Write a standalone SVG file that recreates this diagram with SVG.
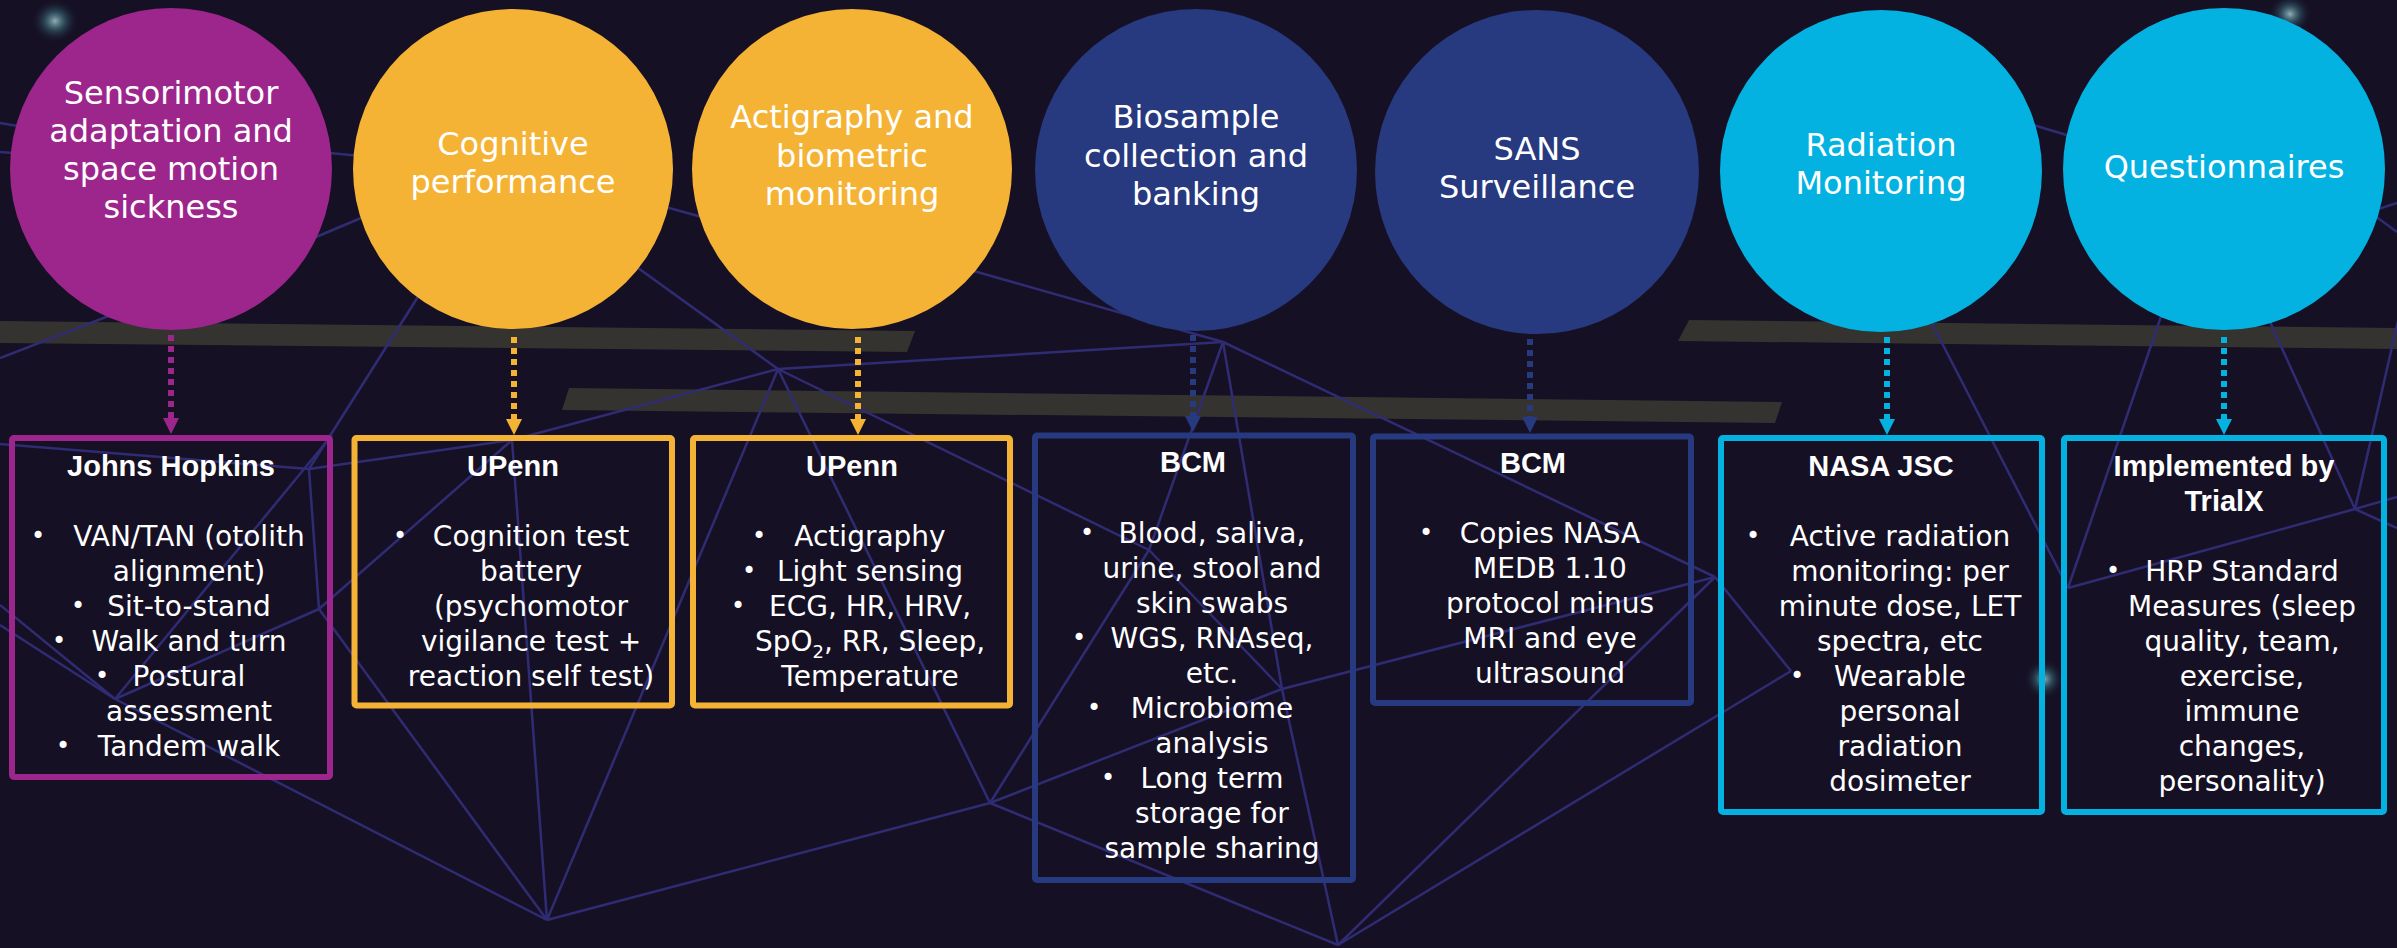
<svg xmlns="http://www.w3.org/2000/svg" width="2397" height="948" viewBox="0 0 2397 948">
<defs>
<style>
.bg{fill:#161024}
.band{fill:#35332f}
.net line{stroke:#2f2c74;stroke-width:2.5}
.ctext{font-family:"DejaVu Sans","Liberation Sans",sans-serif;font-size:32px;fill:#ffffff;text-anchor:middle}
.head{font-family:"Liberation Sans",Arial,sans-serif;font-weight:bold;font-size:29px;fill:#ffffff;text-anchor:middle}
.body{font-family:"DejaVu Sans","Liberation Sans",sans-serif;font-size:28px;fill:#ffffff;text-anchor:middle}
.bul{font-family:"DejaVu Sans","Liberation Sans",sans-serif;font-size:24px;fill:#ffffff;text-anchor:middle}
.box{fill:none;stroke-width:6}
.conn{fill:none;stroke-width:6;stroke-dasharray:6 5}
.purple{fill:#9d268d}.orange{fill:#f5b335}.blue{fill:#27397f}.cyan{fill:#04b2e1}
.sp{stroke:#9d268d}.so{stroke:#f5b335}.sb{stroke:#27397f}.sc{stroke:#04b2e1}
</style>
<radialGradient id="glow">
<stop offset="0" stop-color="#9fc0c6" stop-opacity="0.9"/>
<stop offset="0.45" stop-color="#3f7f8c" stop-opacity="0.45"/>
<stop offset="1" stop-color="#161024" stop-opacity="0"/>
</radialGradient>
<marker id="ap" viewBox="0 0 16 16" refX="0" refY="8" markerWidth="16" markerHeight="16" markerUnits="userSpaceOnUse" orient="auto"><path d="M0,0 L16,8 L0,16 z" fill="#9d268d"/></marker>
<marker id="ao" viewBox="0 0 16 16" refX="0" refY="8" markerWidth="16" markerHeight="16" markerUnits="userSpaceOnUse" orient="auto"><path d="M0,0 L16,8 L0,16 z" fill="#f5b335"/></marker>
<marker id="ab" viewBox="0 0 16 16" refX="0" refY="8" markerWidth="16" markerHeight="16" markerUnits="userSpaceOnUse" orient="auto"><path d="M0,0 L16,8 L0,16 z" fill="#27397f"/></marker>
<marker id="ac" viewBox="0 0 16 16" refX="0" refY="8" markerWidth="16" markerHeight="16" markerUnits="userSpaceOnUse" orient="auto"><path d="M0,0 L16,8 L0,16 z" fill="#04b2e1"/></marker>
</defs>
<rect class="bg" x="0" y="0" width="2397" height="948"/>
<g id="background">
<ellipse cx="55" cy="21" rx="24" ry="22" fill="url(#glow)"/>
<ellipse cx="2290" cy="14" rx="22" ry="20" fill="url(#glow)"/>
<ellipse cx="2044" cy="679" rx="20" ry="20" fill="url(#glow)"/>
<polygon class="band" points="0,321 915,331 907,352 0,343"/>
<polygon class="band" points="569,388 1782,402 1775,423 562,410"/>
<polygon class="band" points="1689,320 2397,328 2397,349 1678,341"/>
<g class="net">
<line x1="0" y1="444" x2="309" y2="469"/>
<line x1="309" y1="469" x2="512" y2="440"/>
<line x1="512" y1="440" x2="778" y2="369"/>
<line x1="309" y1="469" x2="319" y2="609"/>
<line x1="309" y1="469" x2="440" y2="262"/>
<line x1="319" y1="609" x2="115" y2="699"/>
<line x1="319" y1="609" x2="547" y2="920"/>
<line x1="319" y1="609" x2="512" y2="440"/>
<line x1="115" y1="699" x2="547" y2="920"/>
<line x1="115" y1="699" x2="0" y2="605"/>
<line x1="115" y1="699" x2="0" y2="625"/>
<line x1="115" y1="699" x2="332" y2="435"/>
<line x1="547" y1="920" x2="512" y2="440"/>
<line x1="547" y1="920" x2="778" y2="369"/>
<line x1="547" y1="920" x2="990" y2="803"/>
<line x1="778" y1="369" x2="990" y2="803"/>
<line x1="778" y1="369" x2="1149" y2="550"/>
<line x1="778" y1="369" x2="1223" y2="342"/>
<line x1="778" y1="369" x2="620" y2="255"/>
<line x1="1223" y1="342" x2="900" y2="250"/>
<line x1="1223" y1="342" x2="1149" y2="550"/>
<line x1="1223" y1="342" x2="1282" y2="689"/>
<line x1="1223" y1="342" x2="1715" y2="577"/>
<line x1="1149" y1="550" x2="990" y2="803"/>
<line x1="1149" y1="550" x2="1282" y2="689"/>
<line x1="990" y1="803" x2="1282" y2="689"/>
<line x1="990" y1="803" x2="1338" y2="945"/>
<line x1="1282" y1="689" x2="1338" y2="945"/>
<line x1="1282" y1="689" x2="1715" y2="577"/>
<line x1="1338" y1="945" x2="1715" y2="577"/>
<line x1="1338" y1="945" x2="1791" y2="671"/>
<line x1="1715" y1="577" x2="1791" y2="671"/>
<line x1="2068" y1="588" x2="2170" y2="290"/>
<line x1="2068" y1="588" x2="1925" y2="310"/>
<line x1="2068" y1="588" x2="2355" y2="509"/>
<line x1="2355" y1="509" x2="2260" y2="300"/>
<line x1="2355" y1="509" x2="2405" y2="290"/>
<line x1="2355" y1="509" x2="2397" y2="497"/>
<line x1="2355" y1="509" x2="2397" y2="528"/>
<line x1="0" y1="123" x2="100" y2="140"/>
<line x1="0" y1="152" x2="100" y2="160"/>
<line x1="300" y1="150" x2="400" y2="160"/>
<line x1="640" y1="200" x2="720" y2="222"/>
<line x1="290" y1="248" x2="380" y2="210"/>
<line x1="0" y1="358" x2="150" y2="300"/>
<line x1="2010" y1="118" x2="2090" y2="142"/>
<line x1="2360" y1="215" x2="2397" y2="203"/>
<line x1="2360" y1="205" x2="2397" y2="232"/>
</g>
</g>
<g id="connectors">
<line class="conn sp" x1="171" y1="335" x2="171" y2="418" marker-end="url(#ap)"/>
<line class="conn so" x1="514" y1="337" x2="514" y2="419" marker-end="url(#ao)"/>
<line class="conn so" x1="858" y1="337" x2="858" y2="419" marker-end="url(#ao)"/>
<line class="conn sb" x1="1193" y1="335" x2="1193" y2="416" marker-end="url(#ab)"/>
<line class="conn sb" x1="1530" y1="339" x2="1530" y2="417" marker-end="url(#ab)"/>
<line class="conn sc" x1="1887" y1="337" x2="1887" y2="419" marker-end="url(#ac)"/>
<line class="conn sc" x1="2224" y1="337" x2="2224" y2="419" marker-end="url(#ac)"/>
</g>
<g id="node-sensorimotor">
<circle class="purple" cx="171" cy="169" r="161"/>
<text class="ctext"><tspan x="171" y="104">Sensorimotor</tspan><tspan x="171" y="142">adaptation and</tspan><tspan x="171" y="180">space motion</tspan><tspan x="171" y="218">sickness</tspan></text>
</g>
<g id="node-cognitive">
<circle class="orange" cx="513" cy="169" r="160"/>
<text class="ctext"><tspan x="513" y="155">Cognitive</tspan><tspan x="513" y="193">performance</tspan></text>
</g>
<g id="node-actigraphy">
<circle class="orange" cx="852" cy="169" r="160"/>
<text class="ctext"><tspan x="852" y="128">Actigraphy and</tspan><tspan x="852" y="167">biometric</tspan><tspan x="852" y="205">monitoring</tspan></text>
</g>
<g id="node-biosample">
<circle class="blue" cx="1196" cy="170" r="161"/>
<text class="ctext"><tspan x="1196" y="128">Biosample</tspan><tspan x="1196" y="167">collection and</tspan><tspan x="1196" y="205">banking</tspan></text>
</g>
<g id="node-sans">
<circle class="blue" cx="1537" cy="172" r="162"/>
<text class="ctext"><tspan x="1537" y="160">SANS</tspan><tspan x="1537" y="198">Surveillance</tspan></text>
</g>
<g id="node-radiation">
<circle class="cyan" cx="1881" cy="171" r="161"/>
<text class="ctext"><tspan x="1881" y="156">Radiation</tspan><tspan x="1881" y="194">Monitoring</tspan></text>
</g>
<g id="node-questionnaires">
<circle class="cyan" cx="2224" cy="169" r="161"/>
<text class="ctext"><tspan x="2224" y="178">Questionnaires</tspan></text>
</g>
<g id="box-johns-hopkins">
<rect class="box sp" x="12" y="438" width="318" height="339" rx="2"/>
<text class="head" x="171" y="476">Johns Hopkins</text>
<text class="body"><tspan x="189" y="546">VAN/TAN (otolith</tspan><tspan x="189" y="581">alignment)</tspan><tspan x="189" y="616">Sit-to-stand</tspan><tspan x="189" y="651">Walk and turn</tspan><tspan x="189" y="686">Postural</tspan><tspan x="189" y="721">assessment</tspan><tspan x="189" y="756">Tandem walk</tspan></text>
<text class="bul"><tspan x="38" y="544">•</tspan><tspan x="78" y="614">•</tspan><tspan x="59" y="649">•</tspan><tspan x="102" y="684">•</tspan><tspan x="63" y="754">•</tspan></text>
</g>
<g id="box-upenn-cognitive">
<rect class="box so" x="354.5" y="438" width="317.5" height="267.5" rx="2"/>
<text class="head" x="513" y="476">UPenn</text>
<text class="body"><tspan x="531" y="546">Cognition test</tspan><tspan x="531" y="581">battery</tspan><tspan x="531" y="616">(psychomotor</tspan><tspan x="531" y="651">vigilance test +</tspan><tspan x="531" y="686">reaction self test)</tspan></text>
<text class="bul"><tspan x="400" y="544">•</tspan></text>
</g>
<g id="box-upenn-actigraphy">
<rect class="box so" x="693" y="438" width="317" height="267.5" rx="2"/>
<text class="head" x="852" y="476">UPenn</text>
<text class="body"><tspan x="870" y="546">Actigraphy</tspan><tspan x="870" y="581">Light sensing</tspan><tspan x="870" y="616">ECG, HR, HRV,</tspan><tspan x="870" y="651">SpO<tspan font-size="18" dy="7">2</tspan><tspan dy="-7">, RR, Sleep,</tspan></tspan><tspan x="870" y="686">Temperature</tspan></text>
<text class="bul"><tspan x="759" y="544">•</tspan><tspan x="749" y="579">•</tspan><tspan x="738" y="614">•</tspan></text>
</g>
<g id="box-bcm-biosample">
<rect class="box sb" x="1035" y="435.5" width="318" height="444.5" rx="2"/>
<text class="head" x="1193" y="472">BCM</text>
<text class="body"><tspan x="1212" y="543">Blood, saliva,</tspan><tspan x="1212" y="578">urine, stool and</tspan><tspan x="1212" y="613">skin swabs</tspan><tspan x="1212" y="648">WGS, RNAseq,</tspan><tspan x="1212" y="683">etc.</tspan><tspan x="1212" y="718">Microbiome</tspan><tspan x="1212" y="753">analysis</tspan><tspan x="1212" y="788">Long term</tspan><tspan x="1212" y="823">storage for</tspan><tspan x="1212" y="858">sample sharing</tspan></text>
<text class="bul"><tspan x="1087" y="541">•</tspan><tspan x="1079" y="646">•</tspan><tspan x="1094" y="716">•</tspan><tspan x="1108" y="786">•</tspan></text>
</g>
<g id="box-bcm-sans">
<rect class="box sb" x="1373" y="436.5" width="318" height="266.5" rx="2"/>
<text class="head" x="1533" y="473">BCM</text>
<text class="body"><tspan x="1550" y="543">Copies NASA</tspan><tspan x="1550" y="578">MEDB 1.10</tspan><tspan x="1550" y="613">protocol minus</tspan><tspan x="1550" y="648">MRI and eye</tspan><tspan x="1550" y="683">ultrasound</tspan></text>
<text class="bul"><tspan x="1426" y="541">•</tspan></text>
</g>
<g id="box-nasa-jsc">
<rect class="box sc" x="1721" y="438" width="321" height="374" rx="2"/>
<text class="head" x="1881" y="476">NASA JSC</text>
<text class="body"><tspan x="1900" y="546">Active radiation</tspan><tspan x="1900" y="581">monitoring: per</tspan><tspan x="1900" y="616">minute dose, LET</tspan><tspan x="1900" y="651">spectra, etc</tspan><tspan x="1900" y="686">Wearable</tspan><tspan x="1900" y="721">personal</tspan><tspan x="1900" y="756">radiation</tspan><tspan x="1900" y="791">dosimeter</tspan></text>
<text class="bul"><tspan x="1753" y="544">•</tspan><tspan x="1797" y="684">•</tspan></text>
</g>
<g id="box-trialx">
<rect class="box sc" x="2064" y="438" width="320" height="374" rx="2"/>
<text class="head"><tspan x="2224" y="476">Implemented by</tspan><tspan x="2224" y="511">TrialX</tspan></text>
<text class="body"><tspan x="2242" y="581">HRP Standard</tspan><tspan x="2242" y="616">Measures (sleep</tspan><tspan x="2242" y="651">quality, team,</tspan><tspan x="2242" y="686">exercise,</tspan><tspan x="2242" y="721">immune</tspan><tspan x="2242" y="756">changes,</tspan><tspan x="2242" y="791">personality)</tspan></text>
<text class="bul"><tspan x="2113" y="579">•</tspan></text>
</g>
</svg>
